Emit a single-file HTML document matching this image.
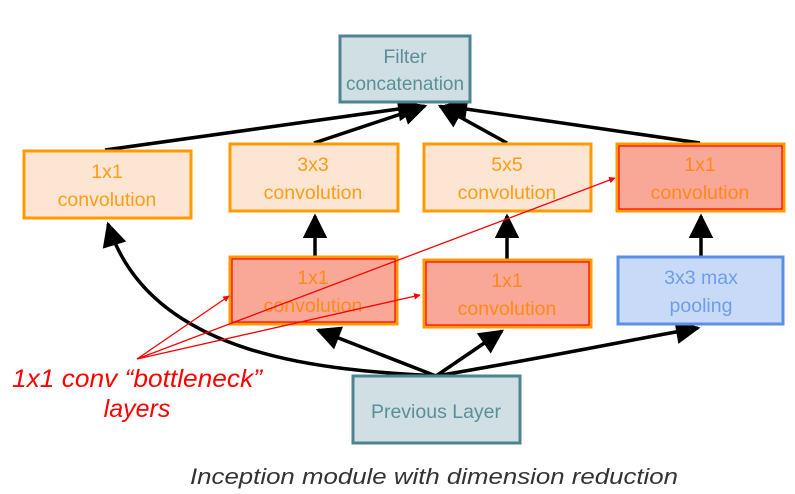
<!DOCTYPE html>
<html><head><meta charset="utf-8"><style>
html,body{margin:0;padding:0;background:#fff;}
svg{display:block;}
text{font-family:"Liberation Sans",sans-serif;}
</style></head><body>
<svg width="795" height="494" viewBox="0 0 795 494" xmlns="http://www.w3.org/2000/svg">
<defs>
<marker id="bk" viewBox="0 0 10 10" refX="9" refY="5" markerWidth="8" markerHeight="7" orient="auto"><path d="M0,0L10,5L0,10z" fill="#000"/></marker>
<marker id="rd" viewBox="0 0 10 10" refX="9" refY="5" markerWidth="5" markerHeight="5" orient="auto"><path d="M0,0L10,5L0,10z" fill="#f00"/></marker>
</defs>
<g stroke="#000" stroke-width="3.5" fill="none" marker-end="url(#bk)">
<line x1="105" y1="150" x2="420" y2="106"/>
<line x1="314" y1="143" x2="425" y2="106"/>
<line x1="507" y1="143" x2="440" y2="106"/>
<line x1="700" y1="143" x2="445" y2="106"/>
<line x1="315" y1="256" x2="315" y2="216"/>
<line x1="507" y1="259" x2="507" y2="216"/>
<line x1="701" y1="256" x2="701" y2="216"/>
<line x1="436" y1="376" x2="318" y2="330"/>
<line x1="436" y1="376" x2="502" y2="331"/>
<path d="M436,376 C330,370 150,360 108,224"/>
<path d="M436,376 C560,355 640,338 698,328"/>
</g>
<g font-size="19.5">
<rect x="340" y="36" width="130" height="66" fill="#d0dfe3" stroke="#4d848f" stroke-width="3"/>
<text x="405" y="63" fill="#5a8f99" text-anchor="middle">Filter</text>
<text x="405" y="90" fill="#5a8f99" text-anchor="middle" textLength="118" lengthAdjust="spacingAndGlyphs">concatenation</text>

<rect x="24" y="151" width="167" height="67" fill="#fce5d2" stroke="#ff9a00" stroke-width="3"/>
<text x="107" y="178" fill="#ff9d17" text-anchor="middle">1x1</text>
<text x="107" y="206" fill="#ff9d17" text-anchor="middle">convolution</text>

<rect x="230" y="144" width="168" height="67" fill="#fce5d2" stroke="#ff9a00" stroke-width="3"/>
<text x="313" y="171" fill="#ff9d17" text-anchor="middle">3x3</text>
<text x="313" y="199" fill="#ff9d17" text-anchor="middle">convolution</text>

<rect x="424" y="144" width="167" height="67" fill="#fce5d2" stroke="#ff9a00" stroke-width="3"/>
<text x="507" y="171" fill="#ff9d17" text-anchor="middle">5x5</text>
<text x="507" y="199" fill="#ff9d17" text-anchor="middle">convolution</text>

<rect x="617" y="144" width="167" height="67" fill="#f9a897" stroke="#ff9a00" stroke-width="3"/>
<rect x="619" y="146" width="163" height="63" fill="none" stroke="#f00" stroke-width="1.2"/>
<text x="700" y="171" fill="#ff8a1a" text-anchor="middle">1x1</text>
<text x="700" y="199" fill="#ff8a1a" text-anchor="middle">convolution</text>

<rect x="230" y="257" width="167" height="67" fill="#f9a897" stroke="#ff9a00" stroke-width="3"/>
<rect x="232" y="259" width="163" height="63" fill="none" stroke="#f00" stroke-width="1.2"/>
<text x="313" y="284" fill="#ff8a1a" text-anchor="middle">1x1</text>
<text x="313" y="312" fill="#ff8a1a" text-anchor="middle">convolution</text>

<rect x="424" y="260" width="167" height="67" fill="#f9a897" stroke="#ff9a00" stroke-width="3"/>
<rect x="426" y="262" width="163" height="63" fill="none" stroke="#f00" stroke-width="1.2"/>
<text x="507" y="287" fill="#ff8a1a" text-anchor="middle">1x1</text>
<text x="507" y="315" fill="#ff8a1a" text-anchor="middle">convolution</text>

<rect x="618" y="257" width="165" height="67" fill="#c9daf8" stroke="#5a8fe6" stroke-width="3"/>
<text x="701" y="284" fill="#6d9eeb" text-anchor="middle">3x3 max</text>
<text x="701" y="312" fill="#6d9eeb" text-anchor="middle">pooling</text>

<rect x="353" y="376" width="167" height="67" fill="#d0dfe3" stroke="#4d848f" stroke-width="3"/>
<text x="436" y="418" fill="#5a8f99" text-anchor="middle">Previous Layer</text>
</g>
<g stroke="#f00" stroke-width="1.3" fill="none" marker-end="url(#rd)">
<line x1="137" y1="359" x2="229" y2="296"/>
<line x1="137" y1="359" x2="420" y2="295"/>
<line x1="137" y1="359" x2="615" y2="178"/>
</g>
<text x="137" y="387" font-size="25" font-style="italic" fill="#f00" text-anchor="middle" textLength="250" lengthAdjust="spacingAndGlyphs">1x1 conv “bottleneck”</text>
<text x="137" y="417" font-size="25" font-style="italic" fill="#f00" text-anchor="middle">layers</text>

<text x="434" y="484" font-size="22" font-style="italic" fill="#333" text-anchor="middle" textLength="488" lengthAdjust="spacingAndGlyphs">Inception module with dimension reduction</text>
</svg>
</body></html>
